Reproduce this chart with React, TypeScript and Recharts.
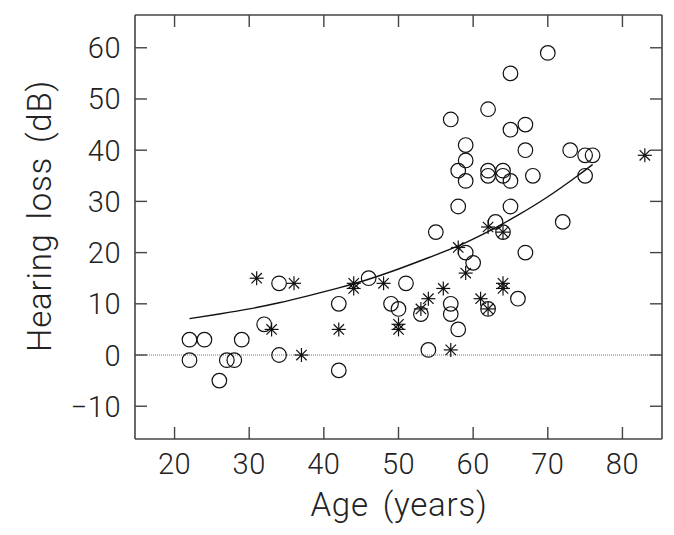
import React from 'react';
import { ScatterChart, Scatter, XAxis, YAxis, ReferenceLine, Label } from 'recharts';

// Open circles (age, hearing loss)
const circleAges = [22, 24, 22, 26, 27, 28, 29, 32, 34, 34, 42, 42, 46, 49, 50, 51, 53, 54, 55, 57, 57, 58, 57, 58, 58, 59, 59, 59, 59, 60, 62, 62, 62, 62, 63, 64, 64, 64, 65, 65, 65, 65, 66, 67, 67, 67, 68, 70, 72, 73, 75, 76, 75];
const circleLoss = [3, 3, -1, -5, -1, -1, 3, 6, 14, 0, 10, -3, 15, 10, 9, 14, 8, 1, 24, 10, 8, 5, 46, 36, 29, 41, 38, 34, 20, 18, 48, 36, 35, 9, 26, 36, 35, 24, 55, 44, 34, 29, 11, 45, 40, 20, 35, 59, 26, 40, 39, 39, 35];

// Asterisks (age, hearing loss)
const starAges = [31, 33, 36, 37, 42, 44, 44, 48, 50, 50, 53, 54, 56, 57, 58, 59, 61, 62, 62, 64, 64, 64, 83];
const starLoss = [15, 5, 14, 0, 5, 14, 13, 14, 6, 5, 9, 11, 13, 1, 21, 16, 11, 9, 25, 24, 14, 13, 39];

// Fitted curve
const curveAges = [22, 26, 30, 34, 38, 42, 46, 50, 54, 58, 62, 66, 70, 74, 76];
const curveLoss = [7.1, 8.0, 9.0, 10.2, 11.6, 13.1, 14.8, 16.8, 19.0, 21.3, 24.1, 27.3, 30.9, 35.0, 37.2];

const xTicks = [20, 30, 40, 50, 60, 70, 80];
const yTicks = [-10, 0, 10, 20, 30, 40, 50, 60];

const circleData = circleAges.map((x, i) => ({ x, y: circleLoss[i] }));
const starData = starAges.map((x, i) => ({ x, y: starLoss[i] }));
const curveData = curveAges.map((x, i) => ({ x, y: curveLoss[i] }));

const FONT = "Roboto, 'DejaVu Sans', sans-serif";
const FW = 300;
const INK = '#222';
const FRAME = '#444';
const TICK_LEN = 12;

const fmt = (v: number) => (v < 0 ? '\u2212' + Math.abs(v) : String(v));

const makeTick = (side: 'bottom' | 'top' | 'left' | 'right', showLabel: boolean) => (props: any) => {
  const { x, y, payload } = props;
  const common = { stroke: FRAME, strokeWidth: 1.4 };
  if (side === 'bottom') {
    return (
      <g>
        <line x1={x} y1={y} x2={x} y2={y - TICK_LEN} {...common} />
        {showLabel && (
          <text x={x} y={y + 35} textAnchor="middle" fontFamily={FONT} fontWeight={FW} fontSize={29} letterSpacing={0.5} fill={INK}>
            {fmt(payload.value)}
          </text>
        )}
      </g>
    );
  }
  if (side === 'top') {
    return <line x1={x} y1={y} x2={x} y2={y + TICK_LEN} {...common} />;
  }
  if (side === 'left') {
    return (
      <g>
        <line x1={x} y1={y} x2={x + TICK_LEN} y2={y} {...common} />
        {showLabel && (
          <text x={x - 14} y={y + 10.5} textAnchor="end" fontFamily={FONT} fontWeight={FW} fontSize={29} letterSpacing={0.5} fill={INK}>
            {fmt(payload.value)}
          </text>
        )}
      </g>
    );
  }
  return <line x1={x} y1={y} x2={x - TICK_LEN} y2={y} {...common} />;
};

const CircleShape = (props: any) => {
  const { cx, cy } = props;
  if (cx == null || cy == null) return <g />;
  return <circle cx={cx} cy={cy} r={7.3} fill="none" stroke="#111" strokeWidth={1.2} />;
};

const StarShape = (props: any) => {
  const { cx, cy } = props;
  if (cx == null || cy == null) return <g />;
  const a = 7;
  const d = 5.2;
  const st = { stroke: '#111', strokeWidth: 1.2 };
  return (
    <g>
      <line x1={cx - a} y1={cy} x2={cx + a} y2={cy} {...st} />
      <line x1={cx} y1={cy - a} x2={cx} y2={cy + a} {...st} />
      <line x1={cx - d} y1={cy - d} x2={cx + d} y2={cy + d} {...st} />
      <line x1={cx - d} y1={cy + d} x2={cx + d} y2={cy - d} {...st} />
      <circle cx={cx} cy={cy} r={1.3} fill="#111" />
    </g>
  );
};

const NoShape = () => <g />;

export default function App() {
  return (
    <div style={{ position: 'absolute', left: 0, top: 0, width: 674, height: 535, background: '#fff' }}>
      <ScatterChart width={674} height={535} margin={{ top: 14, right: 11, bottom: 0, left: 0 }}>
        <XAxis
          xAxisId="b"
          type="number"
          dataKey="x"
          orientation="bottom"
          domain={[14.7, 85.3]}
          ticks={xTicks}
          allowDataOverflow
          height={96}
          tickSize={0}
          tickMargin={0}
          tickLine={false}
          axisLine={{ stroke: FRAME, strokeWidth: 1.6 }}
          tick={makeTick('bottom', true)}
        >
          <Label
            content={() => (
              <text x={399} y={516} textAnchor="middle" fontFamily={FONT} fontWeight={FW} fontSize={33} letterSpacing={0.8} wordSpacing={5} fill={INK}>
                Age (years)
              </text>
            )}
          />
        </XAxis>
        <XAxis
          xAxisId="t"
          type="number"
          dataKey="x"
          orientation="top"
          domain={[14.7, 85.3]}
          ticks={xTicks}
          allowDataOverflow
          height={1}
          tickSize={0}
          tickMargin={0}
          tickLine={false}
          axisLine={{ stroke: FRAME, strokeWidth: 1.6 }}
          tick={makeTick('top', false)}
        />
        <YAxis
          yAxisId="l"
          type="number"
          dataKey="y"
          orientation="left"
          domain={[-16.4, 66.4]}
          ticks={yTicks}
          allowDataOverflow
          width={135}
          tickSize={0}
          tickMargin={0}
          tickLine={false}
          axisLine={{ stroke: FRAME, strokeWidth: 1.6 }}
          tick={makeTick('left', true)}
        >
          <Label
            content={() => (
              <text
                x={51}
                y={216}
                transform="rotate(-90 51 216)"
                textAnchor="middle"
                fontFamily={FONT}
                fontWeight={FW}
                fontSize={33}
                letterSpacing={0.8}
                wordSpacing={5}
                fill={INK}
              >
                Hearing loss (dB)
              </text>
            )}
          />
        </YAxis>
        <YAxis
          yAxisId="r"
          type="number"
          dataKey="y"
          orientation="right"
          domain={[-16.4, 66.4]}
          ticks={yTicks}
          allowDataOverflow
          width={1}
          tickSize={0}
          tickMargin={0}
          tickLine={false}
          axisLine={{ stroke: FRAME, strokeWidth: 1.6 }}
          tick={makeTick('right', false)}
        />
        <ReferenceLine xAxisId="b" yAxisId="l" y={0} stroke="#777" strokeWidth={1.2} strokeDasharray="1 1" />
        <Scatter
          xAxisId="b"
          yAxisId="l"
          data={curveData}
          line={{ stroke: '#111', strokeWidth: 1.4 }}
          lineType="joint"
          lineJointType="monotoneX"
          shape={NoShape}
          isAnimationActive={false}
        />
        <Scatter xAxisId="b" yAxisId="l" data={circleData} shape={CircleShape} isAnimationActive={false} />
        <Scatter xAxisId="b" yAxisId="l" data={starData} shape={StarShape} isAnimationActive={false} />
      </ScatterChart>
    </div>
  );
}
